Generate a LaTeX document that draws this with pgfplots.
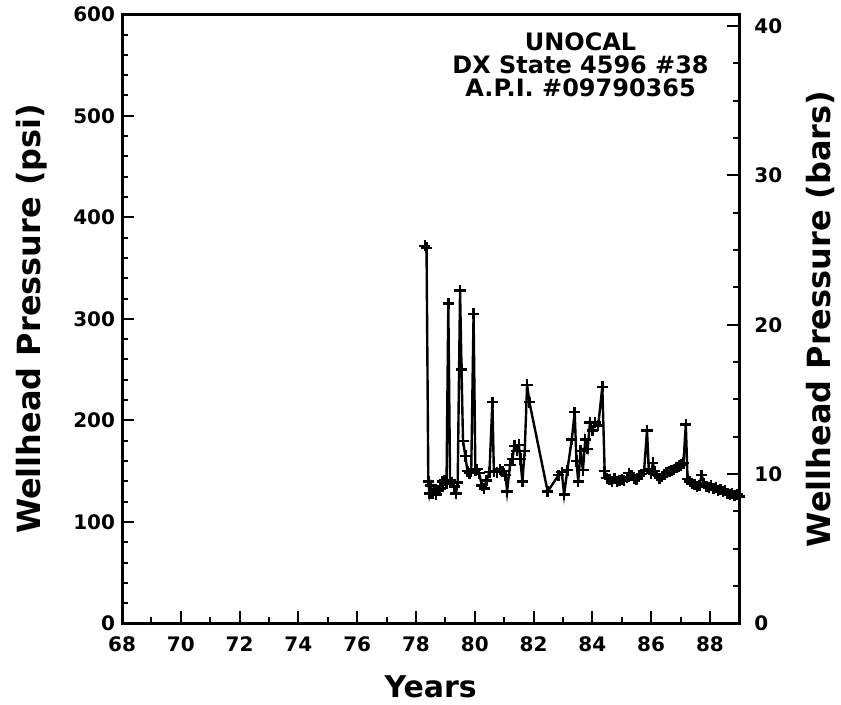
\documentclass[border=0pt]{standalone}
\usepackage{fontspec}
\setmainfont{DejaVu Sans}
\usepackage{pgfplots}
\pgfplotsset{compat=1.18}

% wellhead pressure record, psi
\pgfplotstableread{
yr psi
78.30 372
78.36 370
78.42 140
78.46 128
78.51 136
78.56 128
78.62 132
78.68 127
78.75 131
78.82 133
78.90 140
78.97 141
79.04 138
79.10 315
79.16 141
79.22 139
79.30 135
79.36 128
79.42 139
79.50 328
79.55 250
79.60 180
79.68 165
79.75 150
79.82 148
79.88 150
79.96 305
80.02 151
80.08 152
80.15 148
80.24 136
80.32 133
80.40 141
80.50 149
80.60 218
80.65 150
80.75 149
80.85 152
80.95 150
81.05 146
81.10 130
81.20 156
81.28 162
81.35 175
81.44 170
81.50 176
81.55 162
81.62 140
81.70 170
81.78 235
81.86 218
82.48 130
82.85 146
82.96 149
83.04 127
83.15 151
83.30 181
83.40 208
83.46 160
83.52 140
83.60 170
83.68 151
83.76 181
83.84 172
83.92 198
84.00 190
84.10 198
84.20 195
84.34 233
84.42 150
84.50 143
84.58 142
84.66 140
84.75 143
84.83 140
84.92 141
85.00 142
85.08 141
85.17 144
85.25 148
85.33 146
85.42 143
85.50 142
85.58 145
85.67 147
85.76 150
85.86 190
85.92 152
86.00 148
86.06 158
86.12 150
86.20 146
86.28 143
86.36 145
86.45 147
86.53 149
86.62 150
86.70 151
86.78 152
86.86 154
86.94 155
87.02 156
87.10 158
87.18 196
87.24 142
87.32 140
87.40 138
87.48 137
87.56 135
87.64 136
87.72 146
87.80 138
87.88 135
87.96 134
88.04 136
88.12 133
88.20 134
88.28 131
88.36 132
88.44 130
88.52 131
88.60 128
88.68 127
88.76 128
88.84 126
88.92 127
89.00 125
}\wellhead

\begin{document}
\begin{tikzpicture}[font=\bfseries]
\begin{axis}[
    scale only axis,
    width=309pt, height=305pt,
    xmin=68, xmax=89,
    ymin=0, ymax=600,
    xtick={68,70,...,88},
    minor xtick={69,71,...,87},
    ytick={0,100,...,600},
    minor y tick num=4,
    xtick pos=bottom, ytick pos=left,
    tick align=inside,
    major tick length=6pt, minor tick length=3pt,
    every tick/.style={line width=1pt, black},
    axis line style={line width=1.5pt},
    tick label style={font=\bfseries\fontsize{10}{12}\selectfont},
    xticklabel style={yshift=-3pt},
    label style={font=\bfseries\fontsize{15}{18}\selectfont},
    xlabel style={yshift=-5pt},
    ylabel style={yshift=6pt, font=\bfseries\fontsize{16}{18}\selectfont},
    xlabel={Years},
    ylabel={Wellhead Pressure (psi)},
    xticklabel={\pgfmathprintnumber[fixed]{\tick}},
    /pgf/number format/assume math mode=true,
    clip=false,
]
\addplot[black, line width=1.2pt, mark=+, mark size=2.8pt,
    mark options={line width=1.2pt}] table[x=yr, y=psi] {\wellhead};
\node[align=center, font=\bfseries\fontsize{12}{11.5}\selectfont]
    at (axis cs:83.6,550) {UNOCAL\\DX State 4596 \#38\\A.P.I. \#09790365};
\end{axis}
\begin{axis}[
    scale only axis,
    width=309pt, height=305pt,
    xmin=68, xmax=89,
    ymin=0, ymax=40.8,
    hide x axis,
    axis y line*=right,
    ytick={0,10,...,40},
    minor ytick={2.5,5,...,37.5},
    tick align=inside,
    major tick length=6pt, minor tick length=3pt,
    every tick/.style={line width=1pt, black},
    axis line style={line width=1.5pt},
    tick label style={font=\bfseries\fontsize{10}{12}\selectfont},
    yticklabel style={xshift=4pt},
    ylabel style={yshift=-5pt, font=\bfseries\fontsize{16}{18}\selectfont},
    ylabel={Wellhead Pressure (bars)},
    /pgf/number format/assume math mode=true,
]
\addplot[draw=none] coordinates {(68,0)};
\end{axis}
\path ([xshift=-5pt]current bounding box.west) -- ++(0,0);
\end{tikzpicture}
\end{document}
